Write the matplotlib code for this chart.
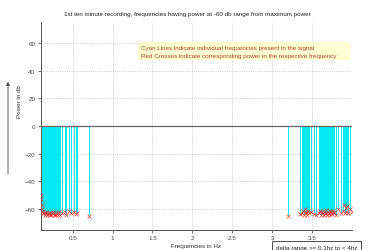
import matplotlib
matplotlib.use("Agg")
import matplotlib.pyplot as plt
from matplotlib.patches import Rectangle, FancyArrowPatch

# frequencies (Hz) that fall within -60 db of the maximum, and their power (db)
freqs = [0.100, 0.105, 0.110, 0.115, 0.120, 0.130, 0.140, 0.150, 0.160, 0.170,
         0.180, 0.190, 0.200, 0.210, 0.220, 0.230, 0.240, 0.250, 0.260, 0.270,
         0.280, 0.290, 0.300, 0.310, 0.320, 0.330, 0.340, 0.370, 0.400, 0.420,
         0.450, 0.480, 0.520, 0.540, 0.550, 0.700,
         3.200, 3.350, 3.380, 3.390, 3.400, 3.410, 3.420, 3.430, 3.440, 3.450,
         3.460, 3.490, 3.520, 3.550, 3.590, 3.600, 3.610, 3.620, 3.630, 3.640,
         3.650, 3.660, 3.670, 3.680, 3.690, 3.700, 3.710, 3.720, 3.730, 3.740,
         3.750, 3.760, 3.770, 3.780, 3.800, 3.830, 3.860, 3.890, 3.900, 3.910,
         3.920, 3.930, 3.940, 3.950, 3.980, 4.000]
power = [-50.0, -53.0, -57.0, -60.0, -62.0, -63.0, -62.5, -64.0, -63.0, -62.0,
         -64.0, -63.5, -62.5, -64.0, -63.0, -64.5, -63.0, -62.0, -64.0, -63.0,
         -64.0, -62.5, -63.5, -64.0, -63.0, -62.0, -64.0, -63.0, -62.0, -64.0,
         -61.5, -63.0, -62.0, -63.5, -62.5, -65.0,
         -65.0, -63.5, -63.0, -61.0, -64.0, -60.0, -63.0, -62.0, -64.0, -61.5,
         -63.0, -62.0, -63.5, -64.0, -63.0, -61.0, -64.0, -62.0, -63.5, -61.0,
         -64.0, -62.5, -63.0, -60.5, -64.0, -62.0, -63.0, -61.0, -64.0, -62.0,
         -63.5, -61.5, -63.0, -62.0, -64.0, -60.0, -63.0, -61.0, -57.0, -63.0,
         -59.0, -62.0, -58.0, -63.0, -60.0, -62.0]

xticks = [0.5, 1, 1.5, 2, 2.5, 3, 3.5]
xtick_labels = ["0.5", "1", "1.5", "2", "2.5", "3", "3.5"]
yticks = [-60, -40, -20, 0, 20, 40, 60]

plt.rcParams["font.family"] = ["Liberation Sans", "DejaVu Sans"]
fs = 4.5

fig = plt.figure(figsize=(3.74, 2.51), dpi=100)
ax = fig.add_axes([0.109, 0.080, 0.832, 0.828])

ax.vlines(freqs, power, 0, color="#00eaf2", linewidth=0.7, zorder=2)
ax.axhline(0, color="#666666", linewidth=0.9, zorder=3)
ax.plot(freqs, power, "x", color="#ff2a2a", markersize=3.5, markeredgewidth=0.4, zorder=4)

ax.set_xlim(0.1, 4.0)
ax.set_ylim(-75, 75)
ax.set_xticks(xticks)
ax.set_xticklabels(xtick_labels)
ax.set_yticks(yticks)
ax.tick_params(labelsize=fs, colors="#444444", length=2, width=0.5, pad=2)
ax.grid(True, linestyle=":", color="#b0b0b0", linewidth=0.5)
ax.set_axisbelow(True)
for side in ["top", "right"]:
    ax.spines[side].set_visible(False)
for side in ["left", "bottom"]:
    ax.spines[side].set_color("#555555")
    ax.spines[side].set_linewidth(0.7)

ax.set_xlabel("Frequencies in Hz", fontsize=fs, color="#333333", labelpad=2)
fig.text(0.053, 0.594, "Power in db", fontsize=fs, color="#333333",
         rotation=90, ha="center", va="center")
fig.text(0.5, 0.944, "1st ten minute recording, frequencies having power at -60 db "
         "range from maximum power", fontsize=fs, color="#222222", ha="center", va="center")

# up arrow left of the power label
fig.patches.append(FancyArrowPatch(
    (0.0214, 0.291), (0.0214, 0.681), transform=fig.transFigure,
    arrowstyle="-|>", mutation_scale=5, color="#444444", linewidth=0.6))

# pale yellow note box
ax.add_patch(Rectangle((0.3126, 0.817), 0.681, 0.087, transform=ax.transAxes,
                       facecolor="#ffffd2", edgecolor="none", zorder=5))
ax.text(0.322, 0.878, "Cyan Lines indicate individual frequencies present in the signal",
        transform=ax.transAxes, fontsize=fs, color="#b0402a", ha="left", va="center", zorder=6)
ax.text(0.322, 0.838, "Red Crosses indicate corresponding power in the respective frequency",
        transform=ax.transAxes, fontsize=fs, color="#b0402a", ha="left", va="center", zorder=6)

fig.text(0.738, 0.0, "delta range >= 0.1hz to < 4hz", fontsize=fs, color="#222222",
         ha="left", va="bottom",
         bbox=dict(boxstyle="square,pad=0.6", facecolor="white", edgecolor="#333333",
                   linewidth=0.6))

fig.savefig("out.png", dpi=100)
